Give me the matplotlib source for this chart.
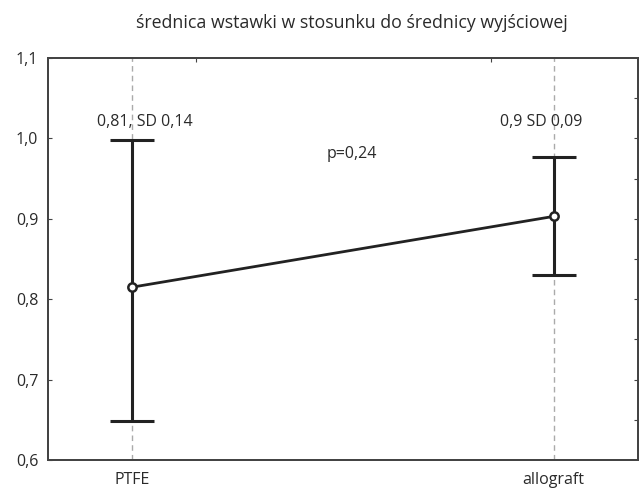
import matplotlib
matplotlib.use("Agg")
import matplotlib.pyplot as plt
import numpy as np

categories = ["PTFE", "allograft"]
means = [0.815, 0.903]
upper = [0.998, 0.977]
lower = [0.648, 0.830]
labels = ["0,81, SD 0,14", "0,9 SD 0,09"]
p_text = "p=0,24"
title = "średnica wstawki w stosunku do średnicy wyjściowej"
yticks = [0.6, 0.7, 0.8, 0.9, 1.0, 1.1]
ytick_labels = ["0,6", "0,7", "0,8", "0,9", "1,0", "1,1"]

plt.rcParams['font.family'] = ['Open Sans', 'DejaVu Sans']
FS = 11.5

fig = plt.figure(figsize=(6.44, 4.88), dpi=100)
ax = fig.add_axes([48/644, 1-460/488, (638-48)/644, (460-58)/488])

x = np.arange(len(categories))
for xi in x:
    ax.axvline(xi, color="#aaaaaa", ls=(0, (4, 3)), lw=1, zorder=0)

m = np.array(means)
yerr = [m - np.array(lower), np.array(upper) - m]
ax.errorbar(x, m, yerr=yerr, fmt="none", ecolor="#222222", elinewidth=2.2,
            capsize=16, capthick=2.2, zorder=2)
ax.plot(x, m, color="#222222", lw=2, zorder=3, marker="o", ms=6,
        mfc="white", mec="#222222", mew=1.8)

ax.set_xlim(-0.2, 1.2)
ax.set_ylim(0.6, 1.1)
ax.set_yticks(yticks)
ax.set_yticklabels(ytick_labels)
ax.set_xticks(x)
ax.set_xticklabels(categories)

ax.tick_params(axis="y", direction="in", length=3, color="#444444",
               labelsize=FS, labelcolor="#2a2a2a", pad=7)
ax.tick_params(axis="x", length=0, labelsize=FS, labelcolor="#2a2a2a", pad=9)

# right-side ticks every 0.05
ax2 = ax.twinx()
ax2.set_ylim(0.6, 1.1)
ax2.set_yticks(np.arange(0.65, 1.06, 0.05))
ax2.tick_params(axis="y", direction="in", length=3, color="#444444", labelright=False)
# top ticks
ax3 = ax.twiny()
ax3.set_xlim(-0.2, 1.2)
ax3.set_xticks([0.152, 0.85])
ax3.tick_params(axis="x", direction="in", length=3, color="#444444", labeltop=False)

for a in (ax, ax2, ax3):
    for s in a.spines.values():
        s.set_color("#444444")
        s.set_linewidth(1.2)

ax.text(0.03, 1.02, labels[0], ha="center", va="center", fontsize=FS, color="#2a2a2a")
ax.text(0.97, 1.02, labels[1], ha="center", va="center", fontsize=FS, color="#2a2a2a")
ax.text(0.52, 0.98, p_text, ha="center", va="center", fontsize=FS, color="#2a2a2a")

fig.text(352/644, 1-23/488, title, ha="center", va="center", fontsize=12.8, color="#2a2a2a")

fig.savefig("out.png", dpi=100)
